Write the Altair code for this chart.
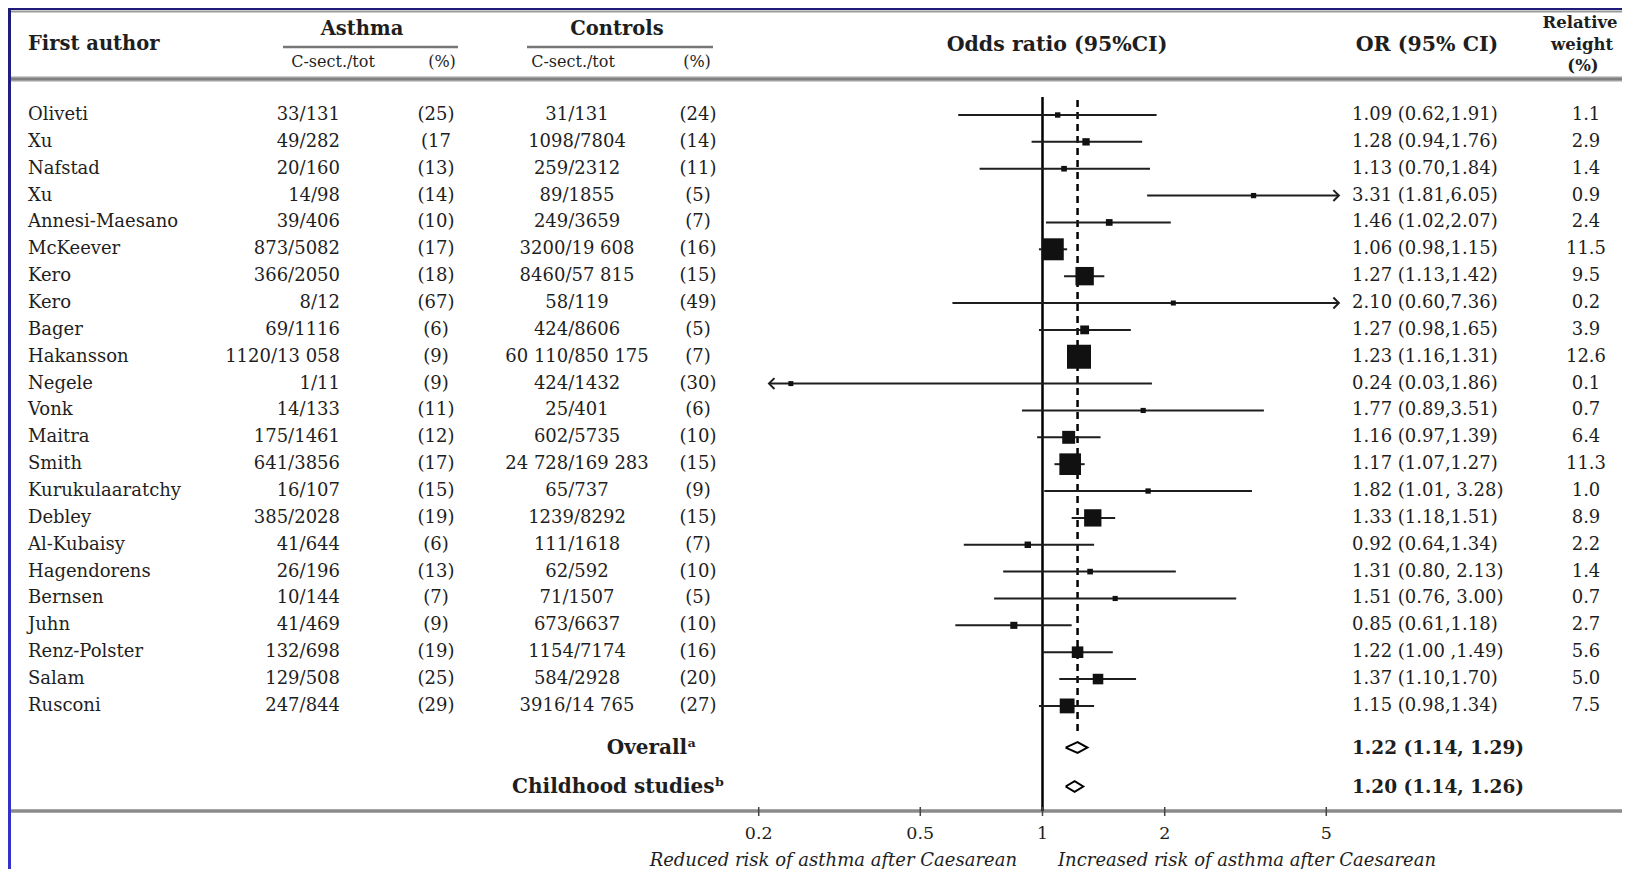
import altair as alt
import pandas as pd

# ---------------- data ----------------
authors = ["Oliveti", "Xu", "Nafstad", "Xu", "Annesi-Maesano", "McKeever", "Kero", "Kero",
           "Bager", "Hakansson", "Negele", "Vonk", "Maitra", "Smith", "Kurukulaaratchy",
           "Debley", "Al-Kubaisy", "Hagendorens", "Bernsen", "Juhn", "Renz-Polster", "Salam",
           "Rusconi"]
asthma_n = ["33/131", "49/282", "20/160", "14/98", "39/406", "873/5082", "366/2050", "8/12",
            "69/1116", "1120/13 058", "1/11", "14/133", "175/1461", "641/3856", "16/107",
            "385/2028", "41/644", "26/196", "10/144", "41/469", "132/698", "129/508", "247/844"]
asthma_pct = ["(25)", "(17", "(13)", "(14)", "(10)", "(17)", "(18)", "(67)", "(6)", "(9)", "(9)",
              "(11)", "(12)", "(17)", "(15)", "(19)", "(6)", "(13)", "(7)", "(9)", "(19)", "(25)",
              "(29)"]
controls_n = ["31/131", "1098/7804", "259/2312", "89/1855", "249/3659", "3200/19 608",
              "8460/57 815", "58/119", "424/8606", "60 110/850 175", "424/1432", "25/401",
              "602/5735", "24 728/169 283", "65/737", "1239/8292", "111/1618", "62/592",
              "71/1507", "673/6637", "1154/7174", "584/2928", "3916/14 765"]
controls_pct = ["(24)", "(14)", "(11)", "(5)", "(7)", "(16)", "(15)", "(49)", "(5)", "(7)", "(30)",
                "(6)", "(10)", "(15)", "(9)", "(15)", "(7)", "(10)", "(5)", "(10)", "(16)", "(20)",
                "(27)"]
or_est = [1.09, 1.28, 1.13, 3.31, 1.46, 1.06, 1.27, 2.10, 1.27, 1.23, 0.24, 1.77, 1.16, 1.17,
          1.82, 1.33, 0.92, 1.31, 1.51, 0.85, 1.22, 1.37, 1.15]
or_lo = [0.62, 0.94, 0.70, 1.81, 1.02, 0.98, 1.13, 0.60, 0.98, 1.16, 0.03, 0.89, 0.97, 1.07,
         1.01, 1.18, 0.64, 0.80, 0.76, 0.61, 1.00, 1.10, 0.98]
or_hi = [1.91, 1.76, 1.84, 6.05, 2.07, 1.15, 1.42, 7.36, 1.65, 1.31, 1.86, 3.51, 1.39, 1.27,
         3.28, 1.51, 1.34, 2.13, 3.00, 1.18, 1.49, 1.70, 1.34]
or_text = ["1.09 (0.62,1.91)", "1.28 (0.94,1.76)", "1.13 (0.70,1.84)", "3.31 (1.81,6.05)",
           "1.46 (1.02,2.07)", "1.06 (0.98,1.15)", "1.27 (1.13,1.42)", "2.10 (0.60,7.36)",
           "1.27 (0.98,1.65)", "1.23 (1.16,1.31)", "0.24 (0.03,1.86)", "1.77 (0.89,3.51)",
           "1.16 (0.97,1.39)", "1.17 (1.07,1.27)", "1.82 (1.01, 3.28)", "1.33 (1.18,1.51)",
           "0.92 (0.64,1.34)", "1.31 (0.80, 2.13)", "1.51 (0.76, 3.00)", "0.85 (0.61,1.18)",
           "1.22 (1.00 ,1.49)", "1.37 (1.10,1.70)", "1.15 (0.98,1.34)"]
weights = [1.1, 2.9, 1.4, 0.9, 2.4, 11.5, 9.5, 0.2, 3.9, 12.6, 0.1, 0.7, 6.4, 11.3, 1.0, 8.9,
           2.2, 1.4, 0.7, 2.7, 5.6, 5.0, 7.5]
weight_text = ["1.1", "2.9", "1.4", "0.9", "2.4", "11.5", "9.5", "0.2", "3.9", "12.6", "0.1",
               "0.7", "6.4", "11.3", "1.0", "8.9", "2.2", "1.4", "0.7", "2.7", "5.6", "5.0", "7.5"]

summary_label = ["Overall\u1d43", "Childhood studies\u1d47"]
summary_row = [23.55, 25.0]
summary_est = [1.22, 1.20]
summary_lo = [1.14, 1.14]
summary_hi = [1.29, 1.26]
summary_text = ["1.22 (1.14, 1.29)", "1.20 (1.14, 1.26)"]

tick_values = [0.2, 0.5, 1, 2, 5]
tick_labels = ["0.2", "0.5", "1", "2", "5"]
null_value = [1.0]

# ---------------- frames ----------------
LO_CLIP, HI_CLIP = 0.212, 5.37
df = pd.DataFrame(dict(row=list(range(len(authors))), author=authors, asthma_n=asthma_n,
                       asthma_pct=asthma_pct, controls_n=controls_n, controls_pct=controls_pct,
                       est=or_est, lo=or_lo, hi=or_hi, or_text=or_text, weight=weights,
                       weight_text=weight_text))
df["lo_c"] = df["lo"].clip(lower=LO_CLIP)
df["hi_c"] = df["hi"].clip(upper=HI_CLIP)

sdf = pd.DataFrame(dict(label=summary_label, row=summary_row, est=summary_est,
                        lo=summary_lo, hi=summary_hi, text=summary_text))
verts = []
for _, s in sdf.iterrows():
    for i, (xv, dy) in enumerate([(s.lo, 0), (s.est, -0.2), (s.hi, 0), (s.est, 0.2), (s.lo, 0)]):
        verts.append(dict(label=s.label, order=i, x=xv, row=s.row + dy))
vdf = pd.DataFrame(verts)
tdf = pd.DataFrame(dict(v=tick_values, t=tick_labels))
ndf = pd.DataFrame(dict(v=null_value))

# ---------------- layout / style ----------------
W, H = 1611, 859
SERIF = "DejaVu Serif"
INK = "#1e1e1e"
BODY = 18
xscale = alt.Scale(type="log", domain=[0.1, 10], range=[625.5, 1437.5])
yscale = alt.Scale(domain=[0, 25], range=[105, 776.5], nice=False, zero=False)
Y = alt.Y("row:Q", scale=yscale, axis=None)


def X(field):
    return alt.X(field, scale=xscale, axis=None)


def label(text, x, y, size=17, weight="normal", align="left", style="normal"):
    return alt.Chart(pd.DataFrame({"t": [text]})).mark_text(
        font=SERIF, fontSize=size, fontWeight=weight, align=align, baseline="middle",
        color=INK, fontStyle=style
    ).encode(x=alt.value(x), y=alt.value(y), text="t:N")


def hline(x1, x2, y, color, width):
    return alt.Chart(pd.DataFrame({"a": [0]})).mark_rule(color=color, strokeWidth=width).encode(
        x=alt.value(x1), x2=alt.value(x2), y=alt.value(y))


layers = []

# left coloured band
layers.append(alt.Chart(pd.DataFrame({"a": [0]})).mark_rect(
    fill=alt.LinearGradient(gradient="linear", x1=0, x2=0, y1=0, y2=1,
                            stops=[alt.GradientStop(color="#1e1c78", offset=0),
                                   alt.GradientStop(color="#2a28a8", offset=0.5),
                                   alt.GradientStop(color="#3532cc", offset=1)])
).encode(x=alt.value(-3), x2=alt.value(0), y=alt.value(-2), y2=alt.value(H)))

# horizontal rules
layers.append(hline(0, W, 1.5, "#9a9a9a", 2))
layers.append(hline(0, W, 69, "#a0a0a0", 5))
layers.append(hline(0, W, 69, "#777777", 1.5))
layers.append(hline(0, W, 801, "#a8a8a8", 4))
layers.append(hline(0, W, 801, "#808080", 1.5))
layers.append(hline(272, 447, 37, "#777777", 2.5))
layers.append(hline(516, 702, 37, "#777777", 2.5))

# headers
layers += [
    label("First author", 17, 34, 19.5, "bold"),
    label("Asthma", 351, 19, 19.5, "bold", "center"),
    label("Controls", 606, 19, 19.5, "bold", "center"),
    label("C-sect./tot", 322, 52, 16, "normal", "center"),
    label("(%)", 431, 52, 16, "normal", "center"),
    label("C-sect./tot", 562, 52, 16, "normal", "center"),
    label("(%)", 686, 52, 16, "normal", "center"),
    label("Odds ratio (95%CI)", 1046, 35, 20.5, "bold", "center"),
    label("OR (95% CI)", 1416, 35, 20.5, "bold", "center"),
    label("Relative", 1569, 13, 16.5, "bold", "center"),
    label("weight", 1571, 35, 16.5, "bold", "center"),
    label("(%)", 1572, 56, 16.5, "bold", "center"),
]

# reference lines
layers.append(alt.Chart(ndf).mark_rule(color="#000000", strokeWidth=2.5).encode(
    x=X("v:Q"), y=alt.value(87), y2=alt.value(801)))
layers.append(alt.Chart(sdf.iloc[[0]]).mark_rule(color="#000000", strokeWidth=2.5,
                                                 strokeDash=[7, 5]).encode(
    x=X("est:Q"), y=alt.value(90), y2=alt.value(726)))

base = alt.Chart(df)
# CI lines
layers.append(base.mark_rule(color=INK, strokeWidth=2).encode(x=X("lo_c:Q"), x2="hi_c:Q", y=Y))
# arrows
layers.append(base.transform_filter(f"datum.hi > {HI_CLIP}").mark_point(
    shape="M-1,-1L0,0L-1,1", size=120, filled=False, strokeWidth=2, color=INK, opacity=1
).encode(x=X("hi_c:Q"), y=Y))
layers.append(base.transform_filter(f"datum.lo < {LO_CLIP}").mark_point(
    shape="M1,-1L0,0L1,1", size=120, filled=False, strokeWidth=2, color=INK, opacity=1
).encode(x=X("lo_c:Q"), y=Y))
# squares
layers.append(base.mark_square(color="#111111", opacity=1).encode(
    x=X("est:Q"), y=Y,
    size=alt.Size("weight:Q", scale=alt.Scale(type="pow", exponent=2, domain=[0, 12.6],
                                              range=[25, 576]), legend=None)))


# table columns
def col(field, x, align, size=BODY):
    return base.mark_text(font=SERIF, fontSize=size, align=align, baseline="middle",
                          color=INK).encode(x=alt.value(x), y=Y, text=f"{field}:N")


layers += [
    col("author", 17, "left"),
    col("asthma_n", 329, "right"),
    col("asthma_pct", 425, "center"),
    col("controls_n", 566, "center"),
    col("controls_pct", 687, "center"),
    col("or_text", 1341, "left"),
    col("weight_text", 1575, "center"),
]

# summaries
sbase = alt.Chart(sdf)
layers.append(alt.Chart(vdf).mark_line(color="#000000", strokeWidth=2).encode(
    x=X("x:Q"), y=Y, order="order:Q", detail="label:N"))
layers.append(sbase.transform_filter("datum.row < 24").mark_text(
    font=SERIF, fontSize=20, fontWeight="bold", align="right", baseline="middle", color=INK
).encode(x=alt.value(685.5), y=Y, text="label:N"))
layers.append(sbase.transform_filter("datum.row > 24").mark_text(
    font=SERIF, fontSize=20, fontWeight="bold", align="right", baseline="middle", color=INK
).encode(x=alt.value(713.5), y=Y, text="label:N"))
layers.append(sbase.mark_text(
    font=SERIF, fontSize=18.5, fontWeight="bold", align="left", baseline="middle", color=INK
).encode(x=alt.value(1341), y=Y, text="text:N"))

# axis ticks and labels
tbase = alt.Chart(tdf)
layers.append(tbase.mark_rule(color="#444444", strokeWidth=1.5).encode(
    x=X("v:Q"), y=alt.value(797), y2=alt.value(806)))
layers.append(tbase.mark_text(font=SERIF, fontSize=17.5, align="center", baseline="middle",
                              color=INK).encode(x=X("v:Q"), y=alt.value(824), text="t:N"))
layers.append(label("Reduced risk of asthma after Caesarean", 1006, 851, 18, "normal", "right",
                    "italic"))
layers.append(label("Increased risk of asthma after Caesarean", 1047, 851, 18, "normal", "left",
                    "italic"))

chart = alt.layer(*layers).properties(
    width=W, height=H, background="#1e1c78",
    padding={"left": 3, "top": 2, "right": 0, "bottom": 0},
    autosize=alt.AutoSizeParams(type="none"),
).configure_view(fill="white", stroke=None)

chart.save("out.html", embed_options={"renderer": "svg", "actions": False})
